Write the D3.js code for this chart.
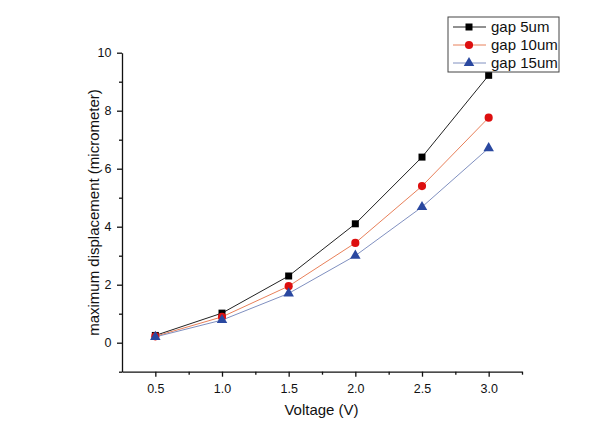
<!DOCTYPE html>
<html>
<head>
<meta charset="utf-8">
<script src="https://cdn.jsdelivr.net/npm/d3@7"></script>
<style>
	body { margin: 0; background: #fff; }
	svg { font-family: "Liberation Sans", Arial, sans-serif; }
</style>
</head>
<body>
<svg id="chart" width="592" height="439"></svg>
<script>
let voltage = [0.5, 1.0, 1.5, 2.0, 2.5, 3.0]
let gap5 = [0.25, 1.02, 2.3, 4.1, 6.4, 9.22]
let gap10 = [0.22, 0.89, 1.95, 3.44, 5.4, 7.76]
let gap15 = [0.2, 0.78, 1.7, 3.0, 4.68, 6.71]
let seriesNames = ['gap 5um', 'gap 10um', 'gap 15um']
let xTicks = [0.5, 1.0, 1.5, 2.0, 2.5, 3.0]
let yTicks = [0, 2, 4, 6, 8, 10]

let svg = d3.select('#chart')

let x = d3.scaleLinear().domain([0.25, 3.25]).range([122, 522])
let y = d3.scaleLinear().domain([-1, 10]).range([371.7, 52.7])

let series = [
	{ name: seriesNames[0], values: gap5, line: '#222', fill: '#000', shape: d3.symbolSquare, size: 49 },
	{ name: seriesNames[1], values: gap10, line: '#e8805a', fill: '#dd0f0f', shape: d3.symbolCircle, size: 52 },
	{ name: seriesNames[2], values: gap15, line: '#8090c0', fill: '#2a48a0', shape: d3.symbolTriangle, size: 48 }
]

// axes
let xAxis = d3.axisBottom(x).tickValues(xTicks).tickFormat(d3.format('.1f')).tickSize(5).tickSizeOuter(0)
let xMinor = d3.axisBottom(x).tickValues([0.75, 1.25, 1.75, 2.25, 2.75, 3.25]).tickFormat('').tickSize(3).tickSizeOuter(0)
let yAxis = d3.axisLeft(y).tickValues(yTicks).tickFormat(d3.format('d')).tickSize(5).tickSizeOuter(0)
let yMinor = d3.axisLeft(y).tickValues([-1, 1, 3, 5, 7, 9]).tickFormat('').tickSize(3).tickSizeOuter(0)

let gx = svg.append('g').attr('transform', 'translate(0,' + y(-1) + ')')
gx.call(xAxis)
svg.append('g').attr('transform', 'translate(0,' + y(-1) + ')').call(xMinor).select('.domain').remove()
let gy = svg.append('g').attr('transform', 'translate(' + x(0.25) + ',0)')
gy.call(yAxis)
svg.append('g').attr('transform', 'translate(' + x(0.25) + ',0)').call(yMinor).select('.domain').remove()

svg.selectAll('.domain, .tick line').attr('stroke', '#111').attr('stroke-width', 1.3)
gx.selectAll('.tick text').attr('font-size', 12.5).attr('dy', '1.1em').attr('fill', '#111').style('font-family', 'inherit')
gy.selectAll('.tick text').attr('font-size', 12.5).attr('dx', '-0.2em').attr('fill', '#111').style('font-family', 'inherit')

svg.append('text').attr('x', 321.5).attr('y', 415).attr('text-anchor', 'middle').attr('font-size', 15).attr('fill', '#111').text('Voltage (V)')
svg.append('text').attr('transform', 'translate(99,212.5) rotate(-90)').attr('text-anchor', 'middle').attr('font-size', 15).attr('fill', '#111').text('maximum displacement (micrometer)')

// lines and markers
let line = d3.line().x((d, i) => x(voltage[i])).y(d => y(d))
series.forEach(s => {
	svg.append('path').attr('d', line(s.values)).attr('fill', 'none').attr('stroke', s.line).attr('stroke-width', 1)
})
series.forEach(s => {
	svg.selectAll(null).data(s.values).enter().append('path')
		.attr('transform', (d, i) => 'translate(' + x(voltage[i]) + ',' + y(d) + ')')
		.attr('d', d3.symbol().type(s.shape).size(s.size))
		.attr('fill', s.fill)
})

// legend
let legend = svg.append('g').attr('transform', 'translate(448,17)')
legend.append('rect').attr('width', 111).attr('height', 55).attr('fill', '#fff').attr('stroke', '#444').attr('stroke-width', 1)
series.forEach((s, i) => {
	let g = legend.append('g').attr('transform', 'translate(0,' + (10 + i * 18) + ')')
	g.append('line').attr('x1', 5).attr('x2', 38).attr('stroke', s.line).attr('stroke-width', 1)
	g.append('path').attr('transform', 'translate(21,0)').attr('d', d3.symbol().type(s.shape).size(s.size)).attr('fill', s.fill)
	g.append('text').attr('x', 43).attr('dy', '0.36em').attr('font-size', 15).attr('fill', '#111').text(s.name)
})
</script>
</body>
</html>
